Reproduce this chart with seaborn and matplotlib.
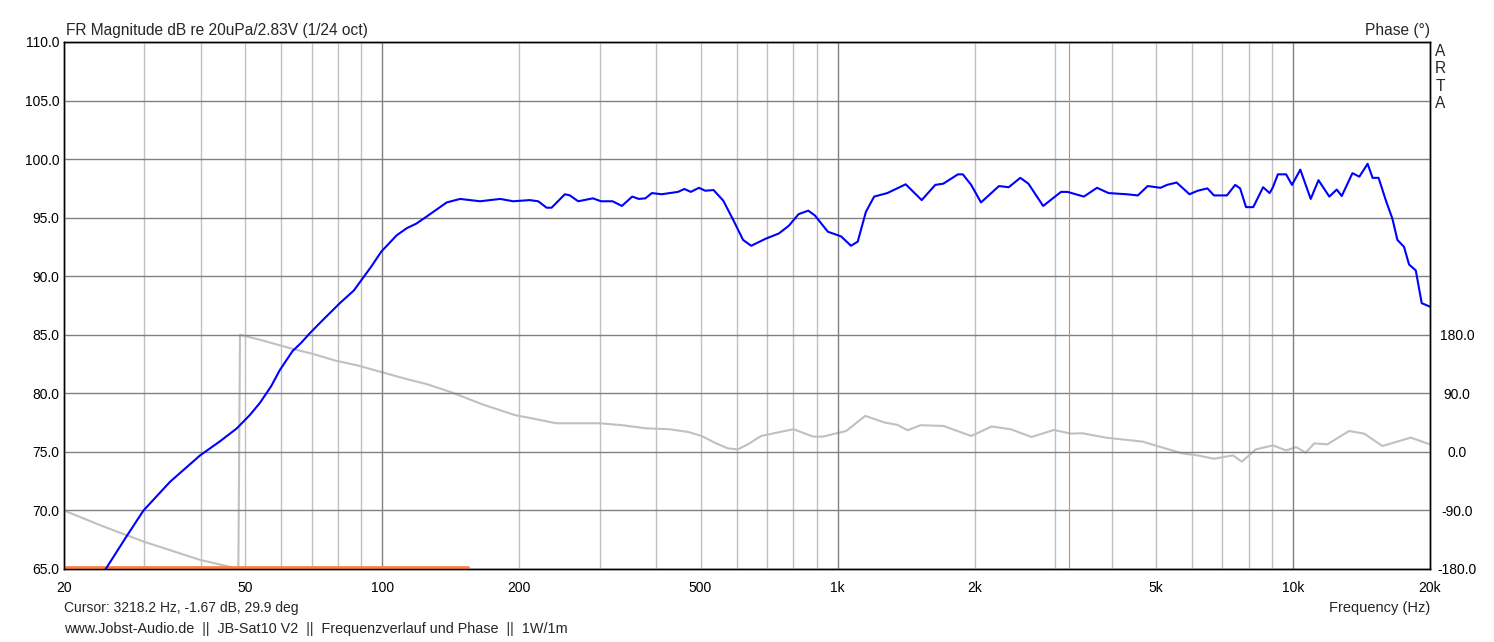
import matplotlib
matplotlib.use("Agg")
import matplotlib.pyplot as plt
from matplotlib.ticker import FixedLocator, FuncFormatter
import pandas as pd
import seaborn as sns

# magnitude response (Hz, dB)
mag_freq = [24.7, 27.4, 29.9, 34.2, 39.8, 44.0, 47.9, 51.2, 53.9, 57.0, 59.6, 63.5, 66.3, 69.4,
            74.0, 80.7, 86.7, 90.1, 94.5, 99.5,
            107.6, 113.2, 118.9, 125.2, 138.5, 148.2, 164, 181.6, 193.8, 210.8, 220, 229.6, 235.4,
            251.8, 258.3, 269.3, 290.1, 302.4, 320.5, 335.9, 354, 365.9, 378.3, 391, 410.7,
            446, 461, 476, 496, 512, 534, 561, 590, 620, 646, 695, 743, 781, 821, 862, 891,
            952, 1018, 1070, 1107, 1154, 1203, 1286, 1411, 1530, 1639, 1706, 1838, 1884,
            1965, 2065, 2262, 2376, 2519, 2625, 2828, 3095, 3200, 3474, 3713, 3935, 4310,
            4566, 4796, 5121, 5291, 5553, 5927, 6177, 6490, 6707, 7163, 7468, 7656, 7889,
            8183, 8600, 8890, 9038, 9266, 9660, 9953, 10380, 10940, 11380, 12020, 12480,
            12800, 13510, 13990, 14590, 14960, 15420, 15990, 16540, 16960, 17540, 17990,
            18610, 19180, 20000]
mag_db = [65.0, 67.75, 70.0, 72.45, 74.7, 75.9, 77.0, 78.15, 79.2, 80.6, 82.0, 83.6, 84.3, 85.15,
          86.25, 87.7, 88.8, 89.7, 90.8, 92.1,
          93.5, 94.1, 94.5, 95.1, 96.3, 96.6, 96.4, 96.6, 96.4, 96.5, 96.4, 95.85, 95.85,
          97.0, 96.9, 96.4, 96.65, 96.4, 96.4, 96.0, 96.8, 96.6, 96.65, 97.1, 97.0,
          97.2, 97.45, 97.2, 97.55, 97.3, 97.36, 96.45, 94.8, 93.1, 92.6, 93.2, 93.65, 94.3,
          95.3, 95.6, 95.2, 93.8, 93.4, 92.6, 92.95, 95.5, 96.8, 97.1, 97.85, 96.5, 97.8,
          97.9, 98.7, 98.7, 97.8, 96.3, 97.7, 97.6, 98.4, 97.9, 96.0, 97.2, 97.2, 96.8,
          97.55, 97.1, 97.0, 96.9, 97.7, 97.55, 97.8, 98.0, 97.0, 97.3, 97.5, 96.9, 96.9,
          97.8, 97.5, 95.9, 95.9, 97.6, 97.1, 97.6, 98.7, 98.7, 97.8, 99.1, 96.6, 98.2,
          96.8, 97.4, 96.85, 98.8, 98.5, 99.6, 98.4, 98.4, 96.5, 94.9, 93.1, 92.5, 91.0,
          90.5, 87.7, 87.4]

# phase response (Hz, deg), wraps at ~48 Hz
phase_freq = [20, 24.4, 29.9, 39.8, 47.9, 48.3, 48.7, 53.9, 63.5, 70.3, 78.9, 88.6, 98.8, 113,
              125, 142, 166, 196, 214, 241, 300, 337, 378, 427, 470, 503, 537, 574, 604, 635,
              679, 737, 800, 884, 929, 1044, 1150, 1269, 1355, 1425, 1522, 1708, 1965, 2178,
              2400, 2666, 2986, 3253, 3450, 3883, 4672, 5716, 6177, 6707, 7387, 7722, 8293,
              9038, 9660, 10160, 10670, 11140, 11900, 13280, 14340, 15720, 18140, 20000]
phase_deg = [-90, -114.6, -137.8, -166, -179, -180, 180, 172.3, 158.4, 150.7, 140.3, 132.6,
             123.3, 112, 104.3, 91.5, 73, 56.4, 51.3, 44, 44, 41, 36.3, 34.8, 30.6, 24.4,
             14.2, 5.4, 3.9, 11.6, 24.4, 29.7, 34.8, 23.5, 23.5, 32.1, 55.3, 45.1, 41.4, 33.2,
             41, 39.9, 24.4, 39, 34.8, 22.9, 33.7, 28.1, 28.6, 21.9, 15.8, -2.3, -5.4, -10.5,
             -5.4, -15.1, 3.9, 10, 2.3, 7.4, -1.2, 13.1, 11.6, 32.1, 28.1, 9, 21.9, 11.6]

# orange limit trace at the bottom
ref_freq = [20, 154]
ref_db = [65.2, 65.2]

cursor_hz = 3218.2

x_labels = {20: "20", 50: "50", 100: "100", 200: "200", 500: "500", 1000: "1k",
            2000: "2k", 5000: "5k", 10000: "10k", 20000: "20k"}
db_ticks = [65, 70, 75, 80, 85, 90, 95, 100, 105, 110]
phase_ticks = [-180, -90, 0, 90, 180]

sns.set_style("white")
plt.rcParams["font.family"] = ["Liberation Sans", "DejaVu Sans"]
plt.rcParams["font.size"] = 10

W, H = 1494, 642
fig = plt.figure(figsize=(W / 100, H / 100), dpi=100)
ax = fig.add_axes([64 / W, 1 - 569 / H, (1430 - 64) / W, (569 - 42) / H])
ax2 = ax.twinx()
ax.set_zorder(ax2.get_zorder() + 1)
ax.patch.set_visible(False)

df_mag = pd.DataFrame({"freq": mag_freq, "db": mag_db})
df_ph = pd.DataFrame({"freq": phase_freq, "deg": phase_deg})
df_ref = pd.DataFrame({"freq": ref_freq, "db": ref_db})

sns.lineplot(data=df_ph, x="freq", y="deg", ax=ax2, color="#c0c0c0", lw=1.5,
             estimator=None, sort=False)
sns.lineplot(data=df_ref, x="freq", y="db", ax=ax, color="#ff7f40", lw=2.0,
             estimator=None, sort=False)
sns.lineplot(data=df_mag, x="freq", y="db", ax=ax, color="#0000ff", lw=1.5,
             estimator=None, sort=False)
ax.axvline(cursor_hz, color="#f08050", lw=0.8, zorder=1)

for a in (ax, ax2):
    a.set_xscale("log")
    a.set_xlim(20, 20000)
    a.set_xlabel("")
    a.set_ylabel("")
ax.set_ylim(65, 110)
ax2.set_ylim(-180, 630)

# x grid: decades dark, others light
ax.xaxis.set_major_locator(FixedLocator([100, 1000, 10000]))
minor = [m * d for d in (10, 100, 1000) for m in range(2, 10)] + [20000]
ax.xaxis.set_minor_locator(FixedLocator(minor))
fmt = FuncFormatter(lambda v, p: x_labels.get(int(round(v)), ""))
ax.xaxis.set_major_formatter(fmt)
ax.xaxis.set_minor_formatter(fmt)
ax.tick_params(axis="x", which="both", length=0, pad=8.5, labelsize=10, colors="black")
ax.set_yticks(db_ticks)
ax.set_yticklabels([f"{v:.1f}" for v in db_ticks])
ax.tick_params(axis="y", length=0, pad=3.5, labelsize=10, colors="black")
ax.grid(True, which="major", axis="both", color="#808080", lw=1.0)
ax.grid(True, which="minor", axis="x", color="#c0c0c0", lw=1.0)
ax.set_axisbelow(True)

ax2.set_yticks(phase_ticks)
ax2.set_yticklabels([f"{v:.1f}" for v in phase_ticks])
ax2.tick_params(axis="y", length=0, pad=19.5, labelsize=10, colors="black")
for lab in ax2.get_yticklabels():
    lab.set_horizontalalignment("center")
ax2.grid(False)

for a in (ax, ax2):
    for s in a.spines.values():
        s.set_color("black")
        s.set_linewidth(1.0)

def px(x, y):
    return x / W, 1 - y / H

fig.text(*px(66, 30), "FR Magnitude dB re 20uPa/2.83V (1/24 oct)", ha="left", va="center",
         fontsize=11.2)
fig.text(*px(1430, 30), "Phase (°)", ha="right", va="center", fontsize=11.2)
fig.text(*px(1440, 44), "A\nR\nT\nA", ha="center", va="top", linespacing=1.2, fontsize=11.2)
fig.text(*px(1430, 608), "Frequency (Hz)", ha="right", va="center", fontsize=10.5)
fig.text(*px(64, 608), f"Cursor: {cursor_hz} Hz, -1.67 dB, 29.9 deg", ha="left", va="center")
fig.text(*px(64, 629), "www.Jobst-Audio.de  ||  JB-Sat10 V2  ||  Frequenzverlauf und Phase  ||  1W/1m",
         ha="left", va="center", fontsize=10.4)

fig.savefig("out.png", dpi=100, facecolor="white")
